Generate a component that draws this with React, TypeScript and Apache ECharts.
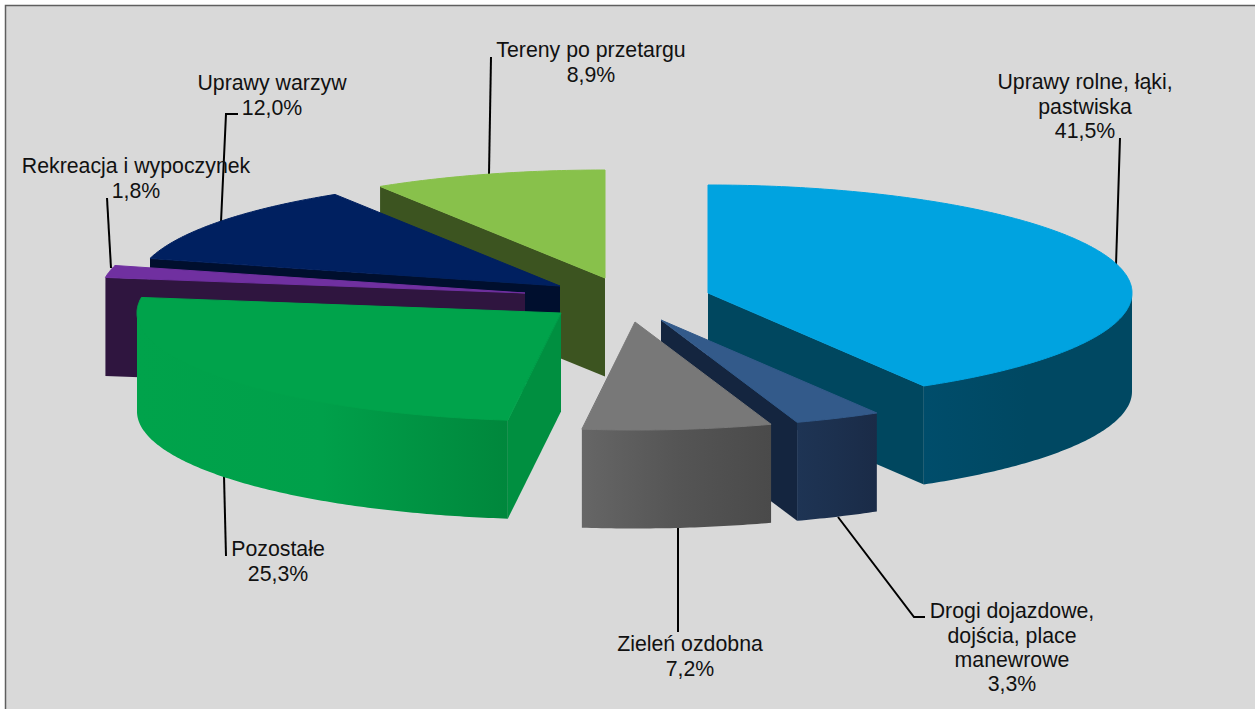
import React, { useEffect, useRef } from "react";
import * as echarts from "echarts";

const categories = [
  "Uprawy rolne, łąki,\npastwiska",
  "Drogi dojazdowe,\ndojścia, place\nmanewrowe",
  "Zieleń ozdobna",
  "Pozostałe",
  "Rekreacja i wypoczynek",
  "Uprawy warzyw",
  "Tereny po przetargu",
];
const shares = [41.5, 3.3, 7.2, 25.3, 1.8, 12.0, 8.9];

// Painter's order of the slices, back to front
const drawOrder = [6, 5, 4, 3, 0, 1, 2];

// Geometry of the projected pie
const RX = 424;
const RY = 108;
const DEPTH = 98.5;
const apexes = [
  [708, 293],
  [661, 320],
  [635, 322],
  [561, 313],
  [525, 293],
  [560, 286],
  [605, 278],
];

const topColors = ["#00a3e0", "#335a8a", "#787878", "#00a34b", "#7030a0", "#002060", "#88c14b"];
const cutColors = ["#00475f", "#14253f", "#4a4a4a", "#008f40", "#2f153f", "#000f2e", "#3c5420"];
const sideStops = [
  ["#004d6b", "#004862", "#004862"],
  ["#1e3454", "#1c304e", "#1a2b47"],
  ["#666666", "#555555", "#4a4a4a"],
  ["#00a34b", "#00a04a", "#00873c"],
  ["#2f153f", "#2f153f", "#2f153f"],
  ["#000f2e", "#000f2e", "#000f2e"],
  ["#3c5420", "#3c5420", "#3c5420"],
];

const labelCentres = [
  [1085, 70],
  [1012, 599],
  [690, 632],
  [278, 537],
  [136, 154],
  [272, 71],
  [591, 38],
];
const leaders = [
  [[1120, 138], [1116, 265]],
  [[838, 517], [914, 617], [925, 617]],
  [[678, 528], [678, 632]],
  [[224, 476], [226, 556]],
  [[107, 198], [111, 268]],
  [[238, 114], [226, 114], [221, 222]],
  [[491, 57], [489, 174]],
];

const FONT_SIZE = 21.3;
const RAD = Math.PI / 180;

const startAngles: number[] = [];
shares.reduce((acc, v, i) => {
  startAngles[i] = acc;
  return acc + (v / 100) * 360;
}, 0);

function rim(i: number, deg: number, dy = 0): number[] {
  const [cx, cy] = apexes[i];
  return [cx + RX * Math.sin(deg * RAD), cy - RY * Math.cos(deg * RAD) + dy];
}

function cutFace(i: number, deg: number, fill: string) {
  const [cx, cy] = apexes[i];
  return {
    type: "polygon",
    shape: { points: [[cx, cy], rim(i, deg), rim(i, deg, DEPTH), [cx, cy + DEPTH]] },
    style: { fill },
    silent: true,
  };
}

function renderSlice(_params: any, api: any) {
  const i = api.value(0) as number;
  const a0 = startAngles[i];
  const a1 = a0 + (shares[i] / 100) * 360;
  const children: any[] = [];

  if (Math.sin(a0 * RAD) < -1e-6) children.push(cutFace(i, a0, cutColors[i]));
  if (Math.sin(a1 * RAD) > 1e-6) children.push(cutFace(i, a1, cutColors[i]));

  const s0 = Math.max(a0, 90);
  const s1 = Math.min(a1, 270);
  if (s1 > s0) {
    const upper: number[][] = [];
    const lower: number[][] = [];
    const steps = Math.max(6, Math.ceil((s1 - s0) * 1.5));
    for (let k = 0; k <= steps; k++) {
      const d = s0 + ((s1 - s0) * k) / steps;
      // The upper edge runs slightly under the top face so that no seam shows
      upper.push(rim(i, d, k === 0 || k === steps ? 0 : -1.5));
      lower.unshift(rim(i, d, DEPTH));
    }
    const stops = sideStops[i];
    children.push({
      type: "polygon",
      shape: { points: upper.concat(lower) },
      style: {
        fill: new echarts.graphic.LinearGradient(1, 0, 0, 0, [
          { offset: 0, color: stops[2] },
          { offset: 0.5, color: stops[1] },
          { offset: 1, color: stops[0] },
        ]),
      },
      silent: true,
    });
  }

  const [cx, cy] = apexes[i];
  const top: number[][] = [[cx, cy]];
  const steps = Math.max(8, Math.ceil((a1 - a0) * 1.5));
  for (let k = 0; k <= steps; k++) top.push(rim(i, a0 + ((a1 - a0) * k) / steps));
  children.push({
    type: "polygon",
    shape: { points: top },
    style: { fill: topColors[i], stroke: topColors[i], lineWidth: 1, lineJoin: "round" },
    silent: true,
  });

  return { type: "group", children };
}

function labelText(i: number): string {
  return `${categories[i]}\n${shares[i].toFixed(1).replace(".", ",")}%`;
}

export default function App() {
  const ref = useRef<HTMLDivElement>(null);
  useEffect(() => {
    document.body.style.margin = "0";
    const chart = echarts.init(ref.current!, undefined, { renderer: "svg" });
    chart.setOption({
      animation: false,
      backgroundColor: "#ffffff",
      graphic: [
        {
          type: "rect",
          z: 0,
          shape: { x: 5.5, y: 5.5, width: 1260, height: 720 },
          style: { fill: "#d9d9d9", stroke: "#5f5f5f", lineWidth: 1.5 },
          silent: true,
        },
        ...leaders.map((pts) => ({
          type: "polyline",
          z: 3,
          shape: { points: pts },
          style: { stroke: "#000000", lineWidth: 2, fill: "none" },
          silent: true,
        })),
        ...categories.map((_, i) => ({
          type: "text",
          z: 4,
          x: labelCentres[i][0],
          y: labelCentres[i][1],
          style: {
            text: labelText(i),
            fill: "#111111",
            fontSize: FONT_SIZE,
            fontFamily: "Liberation Sans",
            lineHeight: 24.4,
            align: "center",
            verticalAlign: "top",
          },
          silent: true,
        })),
      ],
      series: [
        {
          type: "custom",
          coordinateSystem: "none",
          z: 5,
          silent: true,
          data: drawOrder.map((i) => [i]),
          renderItem: renderSlice,
        },
      ],
    });
    return () => chart.dispose();
  }, []);
  return <div ref={ref} style={{ position: "absolute", left: 0, top: 0, width: 1255, height: 709, overflow: "hidden" }} />;
}
